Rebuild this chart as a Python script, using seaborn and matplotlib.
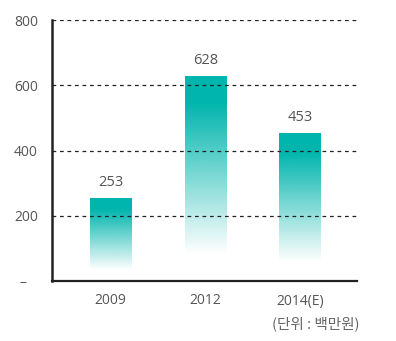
import numpy as np
import pandas as pd
import matplotlib
matplotlib.use("Agg")
import matplotlib.pyplot as plt
import seaborn as sns
from matplotlib.colors import to_rgb

categories = ["2009", "2012", "2014(E)"]
values = [253, 628, 453]
y_ticks = [0, 200, 400, 600, 800]
y_tick_labels = ["–   ", "200", "400", "600", "800"]
unit_label = "(단위 : 백만원)"

sns.set_style("white")
plt.rcParams['font.family'] = ['Open Sans', 'Noto Sans CJK KR', 'DejaVu Sans']

teal = "#00b5ad"
text_col = "#555555"

fig = plt.figure(figsize=(3.96, 3.41), dpi=100)
ax = fig.add_axes([52/396, 1-281/341, (357-52)/396, (281-20)/341])

df = pd.DataFrame({"cat": categories, "val": values})
sns.barplot(data=df, x="cat", y="val", order=categories, color=teal, width=0.44, ax=ax, zorder=2)

rgb = np.array(to_rgb(teal))
n = 256
t = np.linspace(1, 0, n)  # top to bottom
alpha = np.clip((t - 0.13) / 0.74, 0, 1)
img = np.zeros((n, 1, 4))
img[:, 0, :3] = rgb
img[:, 0, 3] = alpha

for p, v in zip(ax.patches, values):
    x0, w, h = p.get_x(), p.get_width(), p.get_height()
    p.set_facecolor("none")
    p.set_edgecolor("none")
    im = ax.imshow(img, extent=(x0, x0 + w, 0, h), aspect="auto", zorder=2, interpolation="bilinear")
    im.set_clip_path(p)
    ax.annotate(f"{v}", (x0 + w / 2, h), xytext=(0, 6), textcoords="offset points",
                ha="center", va="bottom", fontsize=10.5, color=text_col)

ax.set_xlim(-0.62, 2.6)
ax.set_ylim(0, 800)
ax.set_yticks(y_ticks)
ax.set_yticklabels(y_tick_labels)
ax.set_xlabel("")
ax.set_ylabel("")

for yv in y_ticks[1:]:
    ax.axhline(yv, color="#222222", lw=0.9, ls=(0, (3, 3)), zorder=3)

for s in ["top", "right"]:
    ax.spines[s].set_visible(False)
ax.spines["left"].set_color("#222222")
ax.spines["left"].set_linewidth(1.8)
ax.spines["bottom"].set_color("#222222")
ax.spines["bottom"].set_linewidth(1.6)

ax.tick_params(axis="both", length=0, labelsize=10, colors=text_col)
ax.tick_params(axis="y", pad=10)
ax.tick_params(axis="x", pad=9)

fig.text(359/396, 1-324/341, unit_label, ha="right", va="center", fontsize=10.5,
         color="#666666", family=['Noto Sans CJK KR', 'DejaVu Sans'])

fig.savefig("out.png", dpi=100)
